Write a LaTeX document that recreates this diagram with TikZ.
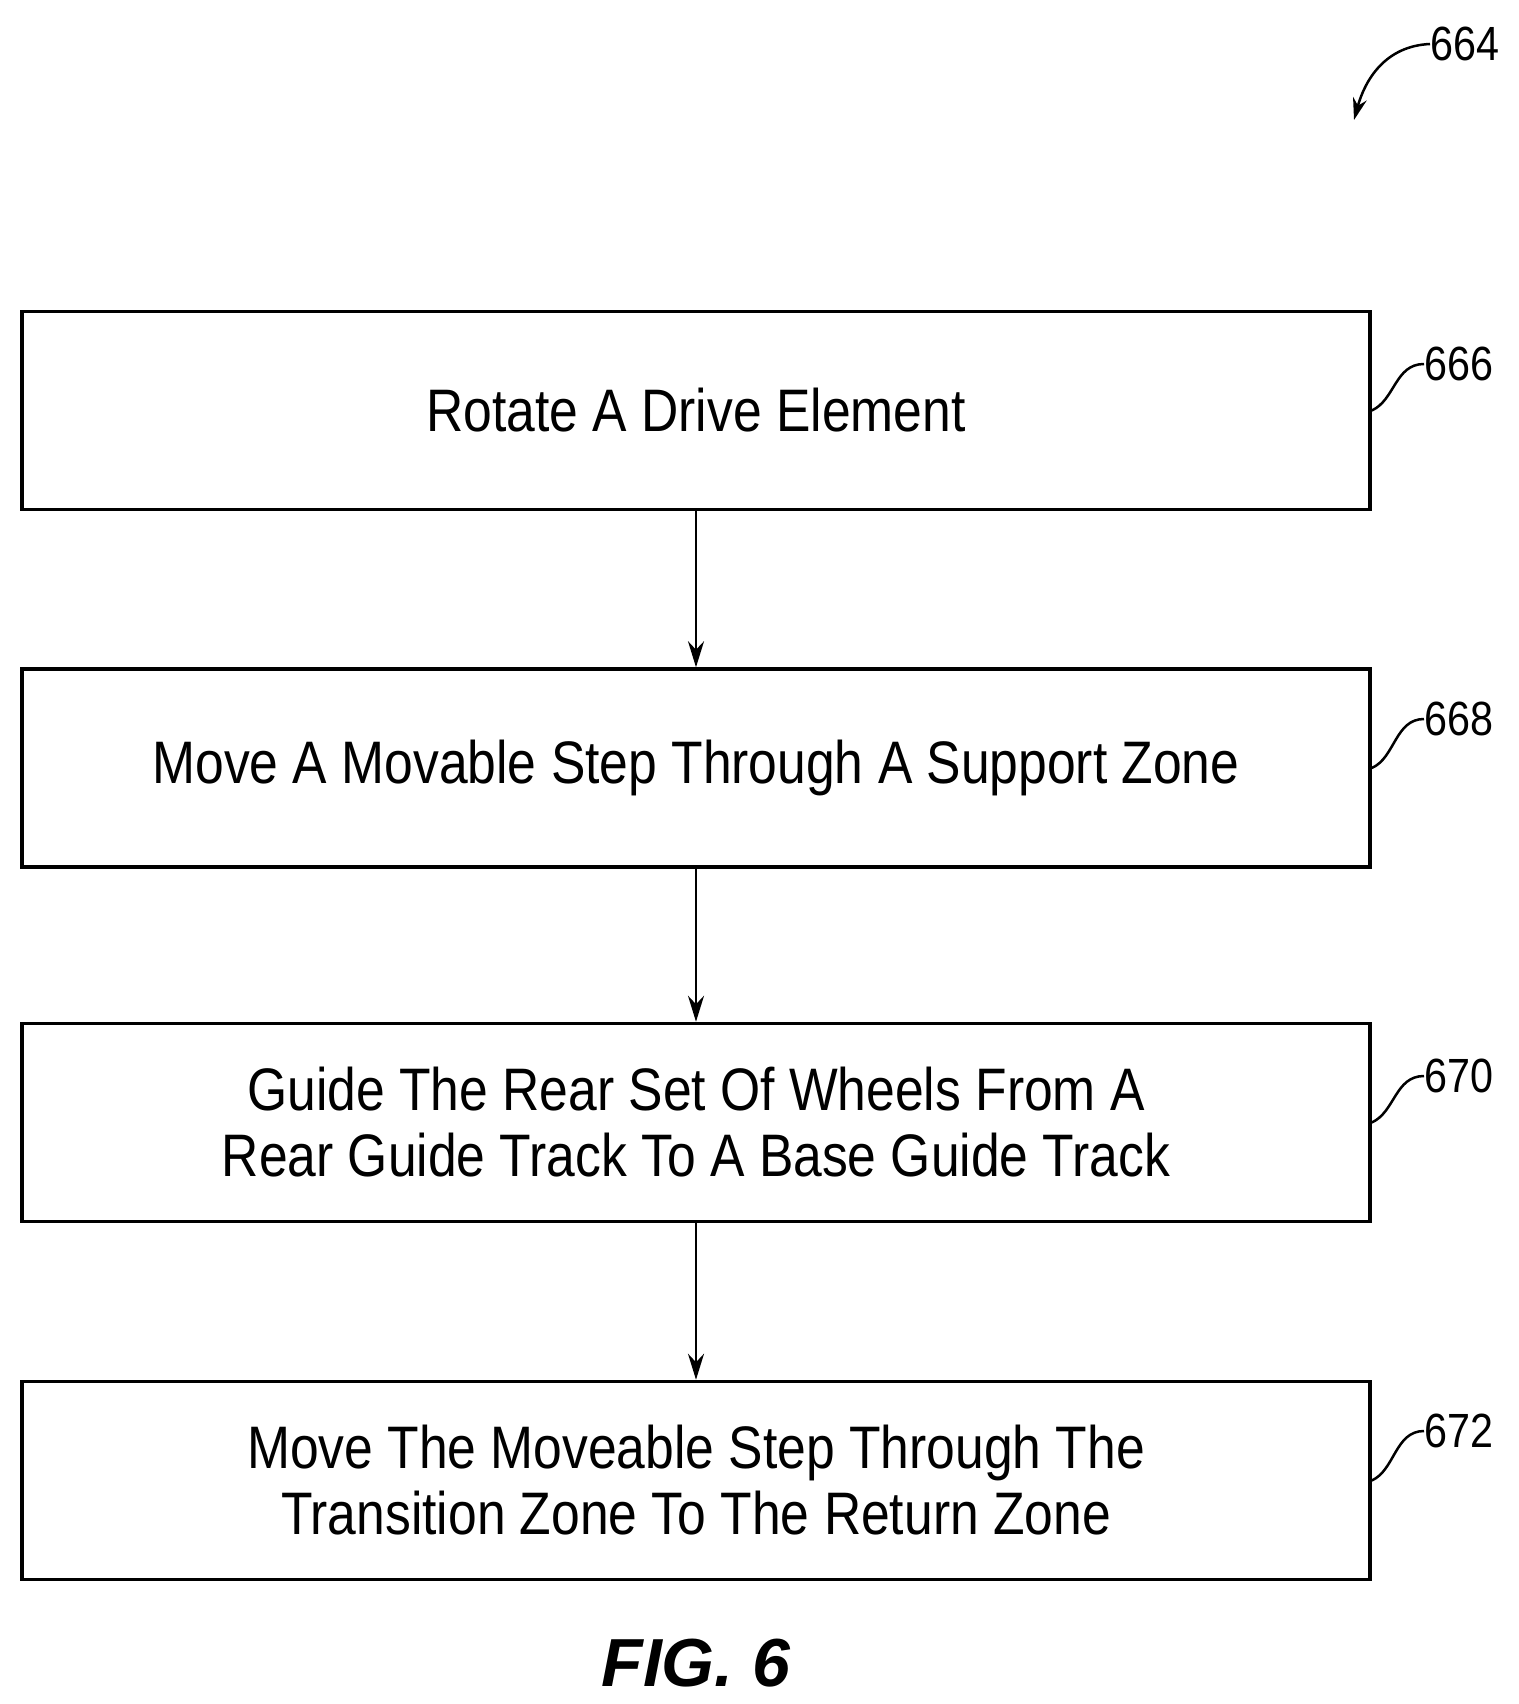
\documentclass[tikz,border=0pt]{standalone}
\usepackage{fontspec}
\setmainfont{Liberation Sans}
\newfontfamily\nar[FakeStretch=0.86]{Liberation Sans}
\usetikzlibrary{arrows.meta}
\begin{document}
\begin{tikzpicture}[x=1pt,y=-1pt,
  box/.style={draw,line width=3.5pt,minimum width=1348pt,minimum height=198pt,inner sep=0pt,align=center,font=\nar\fontsize{60}{66}\selectfont},
  lab/.style={anchor=west,font=\nar\fontsize{48}{50}\selectfont,inner sep=0pt},
  lead/.style={line width=2.5pt},
  arr/.style={line width=2.5pt,-{Stealth[length=26pt,width=16pt]}}]
\useasboundingbox (0,0) rectangle (1518,1704);
\node[box] (b1) at (696,410.5) {Rotate A Drive Element};
\node[box] (b2) at (696,768) {Move A Movable Step Through A Support Zone};
\node[box] (b3) at (696,1122.5) {Guide The Rear Set Of Wheels From A\\Rear Guide Track To A Base Guide Track};
\node[box] (b4) at (696,1480.5) {Move The Moveable Step Through The\\Transition Zone To The Return Zone};
\draw[arr] (b1) -- (b2);
\draw[arr] (b2) -- (b3);
\draw[arr] (b3) -- (b4);
\foreach \n/\t/\y in {l1/666/364,l2/668/719,l3/670/1076,l4/672/1431}{
  \node[lab] (\n) at (1424,\y) {\t};
}
\draw[lead] (b1.east) .. controls (1395,400) and (1395,364) .. (l1.west);
\draw[lead] (b2.east) .. controls (1395,758) and (1395,719) .. (l2.west);
\draw[lead] (b3.east) .. controls (1395,1112) and (1395,1076) .. (l3.west);
\draw[lead] (b4.east) .. controls (1395,1470) and (1395,1431) .. (l4.west);
\node[lab] (l0) at (1430,44) {664};
\coordinate (t0) at (1354,120);
\draw[arr,-{Stealth[length=22pt,width=14pt]}] (l0.west) .. controls (1385,46) and (1365,80) .. (t0);
\node[font=\bfseries\itshape\fontsize{68}{70}\selectfont] (fig) at (696,1663) {FIG. 6};
\end{tikzpicture}
\end{document}
